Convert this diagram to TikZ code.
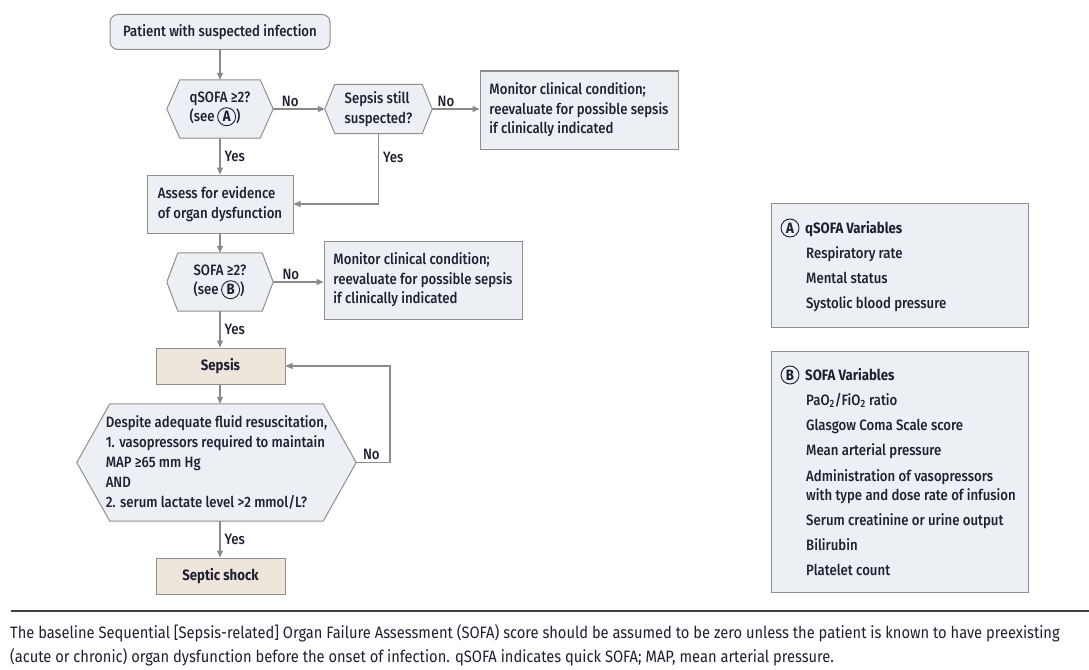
\documentclass[tikz,border=0pt]{standalone}
\usepackage{fontspec}
\setmainfont{Fira Sans}[UprightFont={* Medium},BoldFont={* Bold},FakeStretch=0.88]
\newfontfamily\notefont{Fira Sans}[FakeStretch=0.89]
\usetikzlibrary{arrows.meta,backgrounds,calc}
\definecolor{boxfill}{HTML}{ECF0F4}
\definecolor{beige}{HTML}{EFE6DB}
\definecolor{edge}{HTML}{8F8F8F}
\definecolor{wire}{HTML}{8A8A8A}
\definecolor{ink}{HTML}{1E2032}
\newcommand{\circl}[1]{\tikz[baseline=(cc.base)]\node[circle,draw=ink,line width=0.9pt,inner sep=0pt,minimum size=18pt,font=\bfseries,text=ink](cc){#1};}
\newcommand{\hexof}[2]{\begin{pgfonlayer}{background}\draw[hexline] (#1.west) -- ([xshift=#2pt]#1.north west) -- ([xshift=-#2pt]#1.north east) -- (#1.east) -- ([xshift=-#2pt]#1.south east) -- ([xshift=#2pt]#1.south west) -- cycle;\end{pgfonlayer}}
\begin{document}
\begin{tikzpicture}[x=1pt,y=-1pt,
  txt/.style={text=ink,font=\fontsize{15}{19.5}\selectfont},
  box/.style={txt,draw=edge,fill=boxfill,line width=1pt,inner sep=0pt,align=left},
  beigebox/.style={txt,draw=edge,fill=beige,line width=1pt,inner sep=0pt,font=\fontsize{15}{19.5}\selectfont\bfseries},
  hexnode/.style={txt,inner sep=0pt,align=left},
  hexline/.style={draw=edge,fill=boxfill,line width=1pt,line join=miter},
  conn/.style={draw=wire,line width=1.1pt,-{Triangle[length=7pt,width=6pt]}},
  lbl/.style={txt,inner sep=2pt},
  item/.style={txt,anchor=base west,inner sep=0pt},
  legend/.style={draw=edge,fill=boxfill,line width=1pt}
]
\useasboundingbox (0,0) rectangle (1089,669);
\begin{pgfonlayer}{background}
\fill[white] (0,0) rectangle (1089,669);
\end{pgfonlayer}

% main column
\node[box,rounded corners=8pt,minimum width=220,minimum height=35,align=center] (start) at (220,32) {Patient with suspected infection};

\node[hexnode,minimum width=106,minimum height=58] (q1) at (220,109) {qSOFA ≥2?\\(see\,\circl{A})};
\hexof{q1}{13}

\node[hexnode,minimum width=107,minimum height=49] (q2) at (378.5,109) {Sepsis still\\suspected?};
\hexof{q2}{10}

\node[box,minimum width=198,minimum height=78] (mon1) at (579,110) {Monitor clinical condition;\\reevaluate for possible sepsis\\if clinically indicated};

\node[box,minimum width=146,minimum height=58] (assess) at (220,204) {Assess for evidence\\of organ dysfunction};

\node[hexnode,minimum width=106,minimum height=58] (sofa) at (220,282) {SOFA ≥2?\\(see\,\circl{B})};
\hexof{sofa}{11}

\node[box,minimum width=198,minimum height=78] (mon2) at (423,280) {Monitor clinical condition;\\reevaluate for possible sepsis\\if clinically indicated};

\node[beigebox,minimum width=129,minimum height=36] (sepsis) at (220.5,366) {Sepsis};

\node[hexnode,font=\fontsize{15}{20}\selectfont,minimum width=279,minimum height=117] (shockq) at (216.5,462.5) {Despite adequate fluid resuscitation,\\1. vasopressors required to maintain\\MAP ≥65 mm Hg\\AND\\2. serum lactate level >2 mmol/L?};
\hexof{shockq}{33}

\node[beigebox,minimum width=129,minimum height=36] (shock) at (220.5,576) {Septic shock};

\coordinate (loop) at (390,462.5);

% connectors
\draw[conn] (start.south) -- (start.south |- q1.north);
\draw[conn] (q1.east) -- node[lbl,pos=0.33,above]{No} (q2.west);
\draw[conn] (q2.east) -- node[lbl,pos=0.29,above]{No} (q2.east -| mon1.west);
\draw[conn] (q1.south) -- node[lbl,right=2pt]{Yes} (assess.north -| q1.south);
\draw[conn] (q2.south) |- node[lbl,pos=0.17,right=2pt]{Yes} (assess.east);
\draw[conn] (assess.south) -- (sofa.north);
\draw[conn] (sofa.east) -- node[lbl,pos=0.35,above]{No} (sofa.east -| mon2.west);
\draw[conn] (sofa.south) -- node[lbl,right=2pt]{Yes} (sofa.south |- sepsis.north);
\draw[conn] (sepsis.south -| sofa.south) -- (shockq.north -| sofa.south);
\draw[conn] (shockq.east) -- node[lbl,pos=0.45,above]{No} (loop) |- (sepsis.east);
\draw[conn] (shockq.south -| sofa.south) -- node[lbl,right=2pt]{Yes} (shock.north -| sofa.south);

% legend A
\node[legend,minimum width=257,minimum height=124,anchor=north west] (legA) at (771,203) {};
\node[circle,draw=ink,line width=0.9pt,inner sep=0pt,minimum size=18pt,txt,font=\fontsize{15}{19.5}\selectfont\bfseries] (cA) at (790,228) {A};
\node[item,font=\fontsize{15}{19.5}\selectfont\bfseries] (tA) at (805,233) {qSOFA Variables};
\node[item] (a1) at (806,258) {Respiratory rate};
\node[item] (a2) at (806,283) {Mental status};
\node[item] (a3) at (806,308) {Systolic blood pressure};

% legend B
\node[legend,minimum width=257,minimum height=241,anchor=north west] (legB) at (771,351) {};
\node[circle,draw=ink,line width=0.9pt,inner sep=0pt,minimum size=18pt,txt,font=\fontsize{15}{19.5}\selectfont\bfseries] (cB) at (790,375) {B};
\node[item,font=\fontsize{15}{19.5}\selectfont\bfseries] (tB) at (805,380) {SOFA Variables};
\node[item] (b1) at (806,405) {PaO\textsubscript{2}/FiO\textsubscript{2} ratio};
\node[item] (b2) at (806,430) {Glasgow Coma Scale score};
\node[item] (b3) at (806,455) {Mean arterial pressure};
\node[item] (b4) at (806,481) {Administration of vasopressors};
\node[item] (b4b) at (806,500) {with type and dose rate of infusion};
\node[item] (b5) at (806,525) {Serum creatinine or urine output};
\node[item] (b6) at (806,550) {Bilirubin};
\node[item] (b7) at (806,575) {Platelet count};

% footnote
\coordinate (rl) at (11,611);
\coordinate (rr) at (1089,611);
\draw[draw=black!75,line width=1.3pt] (rl) -- (rr);
\node[anchor=base west,inner sep=0pt,text=ink,font=\notefont\fontsize{16.5}{24}\selectfont] (n1) at (10,638.5) {The baseline Sequential [Sepsis-related] Organ Failure Assessment (SOFA) score should be assumed to be zero unless the patient is known to have preexisting};
\node[anchor=base west,inner sep=0pt,text=ink,font=\notefont\fontsize{16.5}{24}\selectfont] (n2) at (10,662.5) {(acute or chronic) organ dysfunction before the onset of infection. qSOFA indicates quick SOFA; MAP, mean arterial pressure.};
\end{tikzpicture}
\end{document}
